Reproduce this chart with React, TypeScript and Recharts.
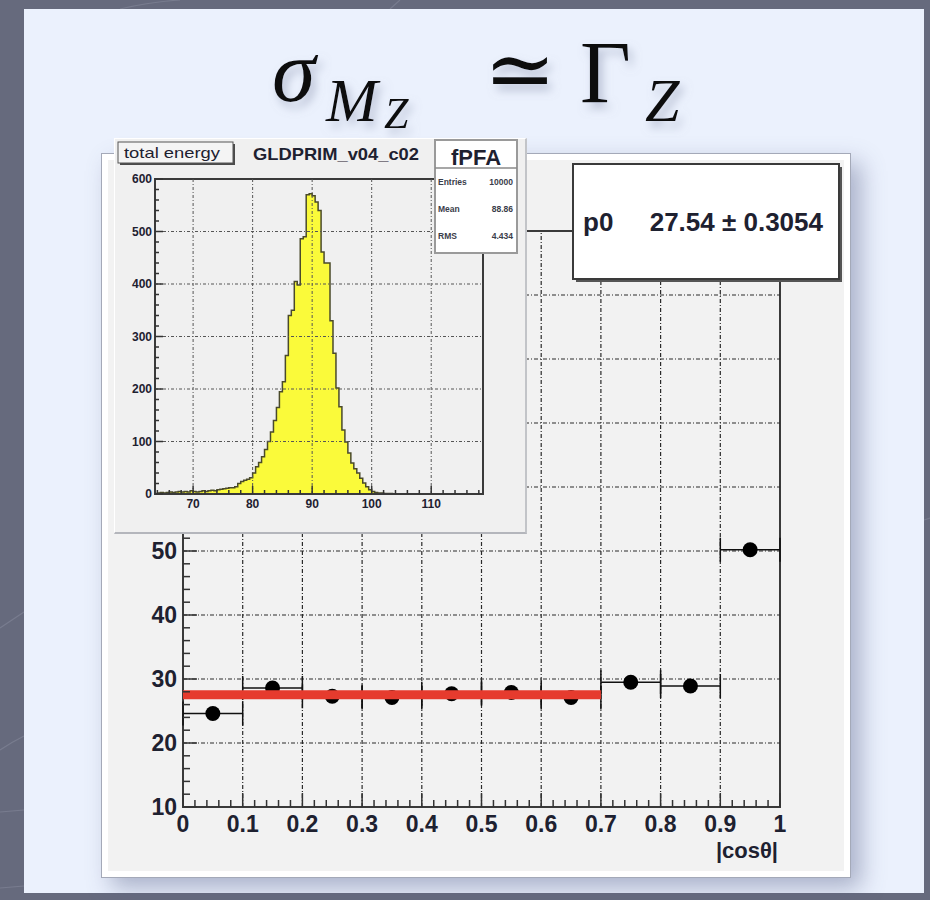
import React from "react";
import {
  Area,
  AreaChart,
  ComposedChart,
  ErrorBar,
  ReferenceArea,
  ReferenceLine,
  Scatter,
  XAxis,
  YAxis,
} from "recharts";

// main plot: sigma(M_Z) per |cos theta| bin
const COS_CENTRES = [0.05, 0.15, 0.25, 0.35, 0.45, 0.55, 0.65, 0.75, 0.85, 0.95];
const COS_HALF_WIDTH = [0.05, 0.05, 0.05, 0.05, 0.05, 0.05, 0.05, 0.05, 0.05, 0.05];
const SIGMA_MZ = [24.6, 28.6, 27.3, 27.1, 27.7, 27.9, 27.1, 29.5, 28.9, 50.2];

const FIT_P0 = 27.54;
const FIT_P0_ERR = 0.3054;
const FIT_FROM = 0;
const FIT_TO = 0.7;

const X_MAJOR = [0, 0.1, 0.2, 0.3, 0.4, 0.5, 0.6, 0.7, 0.8, 0.9, 1];
const X_LABELS = ["0", "0.1", "0.2", "0.3", "0.4", "0.5", "0.6", "0.7", "0.8", "0.9", "1"];
const Y_MAJOR = [10, 20, 30, 40, 50, 60, 70, 80, 90, 100];
// labels above 50 sit under the inset pad in the original, so they are not printed
const Y_LABELS = ["10", "20", "30", "40", "50", "", "", "", "", ""];

// inset: total energy histogram, 0.5 GeV bins starting at 64 GeV
const E_FIRST = 64;
const E_BIN = 0.5;
const E_COUNTS = [
  2, 3, 2, 3, 4, 3, 4, 5, 4, 5, 4, 6, 5, 4, 5, 6, 5, 6, 7, 6, 8, 9,
  10, 11, 12, 12, 14, 20, 24, 26, 28, 31,
  40, 52, 60, 71, 85, 100, 118, 140, 165, 195,
  214, 264, 340, 350, 405, 398, 486, 490,
  570, 572, 568, 556, 540, 461, 440, 440, 330, 268,
  202, 166, 122, 99, 78, 59, 48, 40, 30, 21, 14, 8, 5, 3, 2, 2, 1, 1, 1,
];
const E_MIN = 63.6;
const E_MAX = 118.7;
const E_MAJOR = [70, 80, 90, 100, 110];
const E_LABELS = ["70", "80", "90", "100", "110"];
const N_MAJOR = [0, 100, 200, 300, 400, 500, 600];
const N_LABELS = ["0", "100", "200", "300", "400", "500", "600"];

const STATS = [
  { label: "Entries", value: "10000" },
  { label: "Mean", value: "88.86" },
  { label: "RMS", value: "4.434" },
];

const INK = "#1e2130";
const SANS = '"Liberation Sans", Arial, sans-serif';

const points = COS_CENTRES.map((x, i) => ({ x, y: SIGMA_MZ[i], ex: COS_HALF_WIDTH[i] }));
const fitLine = [
  { x: FIT_FROM, y: FIT_P0 },
  { x: FIT_TO, y: FIT_P0 },
];

const hist = [
  { e: E_FIRST, n: 0 },
  ...E_COUNTS.map((n, i) => ({ e: E_FIRST + i * E_BIN, n })),
  { e: E_FIRST + E_COUNTS.length * E_BIN, n: 0 },
];

function subdivide(majors: number[], parts: number, lo: number, hi: number) {
  const step = majors[1] - majors[0];
  const out: number[] = [];
  for (let v = majors[0] - step; v <= majors[majors.length - 1] + step; v += step / parts) {
    const r = Math.round(v * 1000) / 1000;
    if (r >= lo - 1e-9 && r <= hi + 1e-9) out.push(r);
  }
  return out;
}

const mainXTicks = subdivide(X_MAJOR, 5, 0, 1);
const mainYTicks = subdivide(Y_MAJOR, 5, 10, 100);
const insetXTicks = subdivide(E_MAJOR, 5, E_MIN, E_MAX);
const insetYTicks = subdivide(N_MAJOR, 5, 0, 600);

type TickCfg = {
  majors: number[];
  labels: string[];
  major: number;
  minor: number;
  font: number;
  gap: number;
};

const findMajor = (majors: number[], v: number) =>
  majors.findIndex((m) => Math.abs(m - v) < 1e-6);

function xTick(cfg: TickCfg) {
  return (props: any) => {
    const { x, y, payload } = props;
    const i = findMajor(cfg.majors, payload.value);
    return (
      <g>
        <line x1={x} x2={x} y1={y} y2={y - (i >= 0 ? cfg.major : cfg.minor)} stroke="#333" strokeWidth={1.5} />
        {i >= 0 && cfg.labels[i] && (
          <text x={x} y={y + cfg.gap} textAnchor="middle" fontSize={cfg.font} fontWeight="bold" fontFamily={SANS} fill={INK}>
            {cfg.labels[i]}
          </text>
        )}
      </g>
    );
  };
}

function yTick(cfg: TickCfg) {
  return (props: any) => {
    const { x, y, payload } = props;
    const i = findMajor(cfg.majors, payload.value);
    return (
      <g>
        <line x1={x} x2={x + (i >= 0 ? cfg.major : cfg.minor)} y1={y} y2={y} stroke="#333" strokeWidth={1.5} />
        {i >= 0 && cfg.labels[i] && (
          <text x={x - cfg.gap} y={y} dy="0.36em" textAnchor="end" fontSize={cfg.font} fontWeight="bold" fontFamily={SANS} fill={INK}>
            {cfg.labels[i]}
          </text>
        )}
      </g>
    );
  };
}

const Dot = (p: any) => <circle cx={p.cx} cy={p.cy} r={7.5} fill="#000" />;
const NoDot = () => <g />;

function MainPlot() {
  return (
    <ComposedChart width={750} height={725} margin={{ top: 78, right: 71, bottom: 18, left: 0 }}>
      <XAxis
        dataKey="x"
        type="number"
        domain={[0, 1]}
        ticks={mainXTicks}
        interval={0}
        tickSize={0}
        tickMargin={0}
        tickLine={false}
        axisLine={false}
        height={53}
        tick={xTick({ majors: X_MAJOR, labels: X_LABELS, major: 14, minor: 7, font: 23, gap: 25 })}
        label={{
          value: "|cosθ|",
          position: "insideBottomRight",
          offset: 2,
          style: { fontSize: 22, fontWeight: "bold", fontFamily: SANS, fill: INK },
        }}
      />
      <YAxis
        dataKey="y"
        type="number"
        domain={[10, 100]}
        ticks={mainYTicks}
        interval={0}
        tickSize={0}
        tickMargin={0}
        tickLine={false}
        axisLine={false}
        width={82}
        tick={yTick({ majors: Y_MAJOR, labels: Y_LABELS, major: 14, minor: 7, font: 23, gap: 6 })}
      />
      {X_MAJOR.slice(1, -1).map((v) => (
        <ReferenceLine key={"gx" + v} x={v} stroke="#2a2a2a" strokeDasharray="4 2 1 2" strokeWidth={1.2} />
      ))}
      {Y_MAJOR.slice(1, -1).map((v) => (
        <ReferenceLine key={"gy" + v} y={v} stroke="#2a2a2a" strokeDasharray="4 2 1 2" strokeWidth={1.2} />
      ))}
      <ReferenceArea x1={0} x2={1} y1={10} y2={100} fill="none" stroke="#3a3a3a" strokeWidth={2} />
      <Scatter data={points} shape={Dot} isAnimationActive={false}>
        <ErrorBar dataKey="ex" direction="x" width={12} stroke="#111" strokeWidth={1.5} />
      </Scatter>
      <Scatter
        data={fitLine}
        shape={NoDot}
        line={{ stroke: "#e63b2e", strokeWidth: 9 }}
        isAnimationActive={false}
      />
    </ComposedChart>
  );
}

function InsetPlot() {
  return (
    <AreaChart width={412} height={395} data={hist} margin={{ top: 41, right: 43, bottom: 14, left: 0 }}>
      <XAxis
        dataKey="e"
        type="number"
        domain={[E_MIN, E_MAX]}
        allowDataOverflow
        ticks={insetXTicks}
        interval={0}
        tickSize={0}
        tickMargin={0}
        tickLine={false}
        axisLine={false}
        height={25}
        tick={xTick({ majors: E_MAJOR, labels: E_LABELS, major: 8, minor: 4, font: 12, gap: 14 })}
      />
      <YAxis
        type="number"
        domain={[0, 600]}
        ticks={insetYTicks}
        interval={0}
        tickSize={0}
        tickMargin={0}
        tickLine={false}
        axisLine={false}
        width={41}
        tick={yTick({ majors: N_MAJOR, labels: N_LABELS, major: 8, minor: 4, font: 12, gap: 3 })}
      />
      {E_MAJOR.map((v) => (
        <ReferenceLine key={"ex" + v} x={v} stroke="#555" strokeDasharray="3 2 1 2" strokeWidth={1} />
      ))}
      {N_MAJOR.slice(1, -1).map((v) => (
        <ReferenceLine key={"ny" + v} y={v} stroke="#555" strokeDasharray="3 2 1 2" strokeWidth={1} />
      ))}
      <Area
        type="stepAfter"
        dataKey="n"
        fill="#fafa3a"
        fillOpacity={1}
        stroke="#4a4a2a"
        strokeWidth={1.5}
        dot={false}
        activeDot={false}
        isAnimationActive={false}
      />
      <ReferenceArea x1={E_MIN} x2={E_MAX} y1={0} y2={600} fill="none" stroke="#3a3a3a" strokeWidth={2} />
    </AreaChart>
  );
}

export default function App() {
  return (
    <div
      style={{
        position: "absolute",
        left: 0,
        top: 0,
        width: 930,
        height: 900,
        overflow: "hidden",
        background: "#666a7d",
        fontFamily: SANS,
      }}
    >
      <svg width={930} height={900} style={{ position: "absolute", left: 0, top: 0 }}>
        <g stroke="#8a8ea0" strokeWidth={1.2} opacity={0.5} fill="none">
          <path d="M0 628 Q12 620 24 612" />
          <path d="M0 750 Q12 742 24 736" />
          <path d="M0 812 L24 810" />
          <path d="M0 888 L24 886" />
          <path d="M120 9 Q150 2 180 0" />
          <path d="M390 9 L400 0" />
          <path d="M924 520 L930 518" />
        </g>
      </svg>

      {/* slide panel */}
      <div style={{ position: "absolute", left: 24, top: 9, width: 900, height: 884, background: "#ebf1fd" }} />

      {/* title */}
      <svg width={930} height={150} style={{ position: "absolute", left: 0, top: 0 }}>
        <defs>
          <filter id="ts" x="-20%" y="-30%" width="150%" height="170%">
            <feDropShadow dx="4" dy="6" stdDeviation="5" floodColor="#8b93ad" floodOpacity="0.55" />
          </filter>
        </defs>
        <g filter="url(#ts)" fill="#111" fontFamily='"Liberation Serif", "DejaVu Serif", serif'>
          <text x={272} y={101} fontSize={88} fontStyle="italic">σ</text>
          <text x={326} y={121} fontSize={62} fontStyle="italic">M</text>
          <text x={384} y={128} fontSize={44} fontStyle="italic">Z</text>
          <text x={484} y={99} fontSize={86}>≃</text>
          <text x={580} y={102} fontSize={88}>Γ</text>
          <text x={645} y={121} fontSize={62} fontStyle="italic">Z</text>
        </g>
      </svg>

      {/* ROOT canvas */}
      <div
        style={{
          position: "absolute",
          left: 101,
          top: 153,
          width: 748,
          height: 723,
          background: "#ffffff",
          border: "1px solid #a4a9b8",
          boxShadow: "10px 10px 22px rgba(90,100,140,0.45)",
        }}
      >
        <div style={{ position: "absolute", left: 6, top: 6, right: 6, bottom: 6, background: "#f2f2f2" }} />
      </div>
      <div style={{ position: "absolute", left: 101, top: 153 }}>
        <MainPlot />
      </div>

      {/* inset pad */}
      <div
        style={{
          position: "absolute",
          left: 114,
          top: 138,
          width: 410,
          height: 393,
          background: "#f0f0f0",
          borderTop: "1px solid #ffffff",
          borderLeft: "1px solid #ffffff",
          borderRight: "2px solid #c2c4c8",
          borderBottom: "2px solid #b4b6bc",
        }}
      >
        <div style={{ position: "absolute", left: -1, top: -1 }}>
          <InsetPlot />
        </div>
      </div>

      {/* pad titles, stat boxes */}
      <svg width={930} height={900} style={{ position: "absolute", left: 0, top: 0 }}>
        <rect x={120} y={144} width={115} height={21} fill="#4a4a4a" />
        <rect x={118} y={142} width={115} height={21} fill="#f4f4f4" stroke="#555" strokeWidth={1} />
        <text x={124} y={158} fontSize={15} fontFamily={SANS} fill={INK} textLength={96} lengthAdjust="spacingAndGlyphs">
          total energy
        </text>
        <text x={336} y={160} fontSize={17} fontWeight="bold" fontFamily={SANS} fill={INK} textAnchor="middle" textLength={166} lengthAdjust="spacingAndGlyphs">
          GLDPRIM_v04_c02
        </text>

        <rect x={435} y={140} width={82} height={113} fill="#ffffff" stroke="#9a9a9a" strokeWidth={2} />
        <line x1={435} x2={517} y1={168} y2={168} stroke="#8a8a8a" strokeWidth={1.5} />
        <text x={476} y={165} fontSize={22} fontWeight="bold" fontFamily={SANS} fill={INK} textAnchor="middle">
          fPFA
        </text>
        {STATS.map((s, i) => (
          <g key={s.label} fontSize={8.5} fontWeight="bold" fontFamily={SANS} fill="#3a3d4a">
            <text x={438} y={185 + i * 27}>{s.label}</text>
            <text x={513} y={185 + i * 27} textAnchor="end">{s.value}</text>
          </g>
        ))}

        <rect x={576} y={167} width={266} height={115} fill="#555" />
        <rect x={573} y={164} width={266} height={115} fill="#ffffff" stroke="#3a3a3a" strokeWidth={2} />
        <text x={583} y={231} fontSize={26} fontWeight="bold" fontFamily={SANS} fill={INK}>
          p0
        </text>
        <text x={823} y={231} fontSize={26} fontWeight="bold" fontFamily={SANS} fill={INK} textAnchor="end">
          {FIT_P0.toFixed(2)} ± {FIT_P0_ERR.toFixed(4)}
        </text>
      </svg>
    </div>
  );
}
